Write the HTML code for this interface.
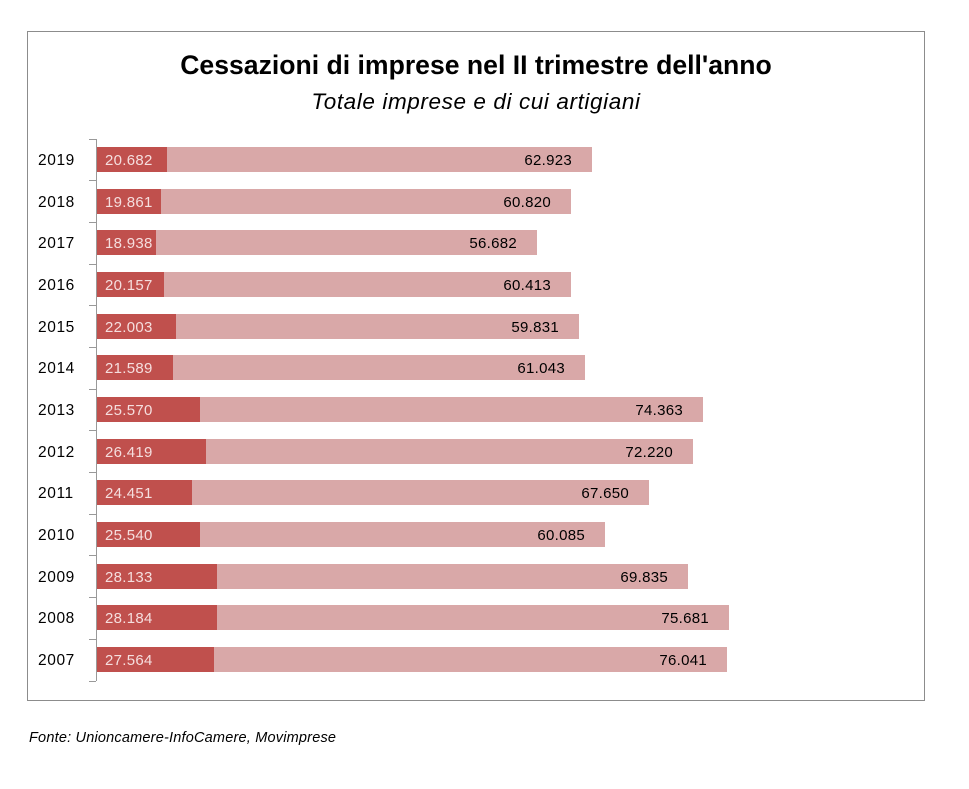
<!DOCTYPE html>
<html><head><meta charset="utf-8"><style>
body{margin:0;background:#fff;width:969px;height:789px;position:relative;font-family:"Liberation Sans",sans-serif;overflow:hidden}
.frame{position:absolute;left:27px;top:31px;width:898px;height:670px;border:1px solid #8c8c8c;box-sizing:border-box}
.t{position:absolute;left:27px;width:898px;text-align:center;color:#000}
.r{position:absolute;height:25px}
.l{background:#d9a8a8;left:97px}
.d{background:#c0504d;left:97px}
.yl{position:absolute;left:38px;width:50px;font-size:15.5px;letter-spacing:0.6px;color:#000;line-height:27px}
.dl{position:absolute;left:105px;font-size:15px;letter-spacing:0.3px;color:#f5dede;line-height:27px}
.ll{position:absolute;font-size:15px;letter-spacing:0.3px;color:#000;line-height:27px;text-align:right;width:90px}
.tick{position:absolute;left:89px;width:7px;height:1px;background:#999}
</style></head><body>
<div class="frame"></div>
<div class="t" style="top:50px;font-size:26.6px;font-weight:bold;">Cessazioni di imprese nel II trimestre dell'anno</div>
<div class="t" style="top:89px;font-size:22.5px;font-style:italic;letter-spacing:0.6px">Totale imprese e di cui artigiani</div>
<div style="position:absolute;left:96px;top:139px;width:1px;height:542px;background:#999"></div>
<div id="c"></div>
<div style="position:absolute;left:29px;top:730px;font-size:14.5px;letter-spacing:0.2px;font-style:italic;color:#000">Fonte: Unioncamere-InfoCamere, Movimprese</div>
<script>
var d=[["2019","20.682",167,"62.923",592],["2018","19.861",161,"60.820",571],["2017","18.938",156,"56.682",537],["2016","20.157",164,"60.413",571],["2015","22.003",176,"59.831",579],["2014","21.589",173,"61.043",585],["2013","25.570",200,"74.363",703],["2012","26.419",206,"72.220",693],["2011","24.451",192,"67.650",649],["2010","25.540",200,"60.085",605],["2009","28.133",217,"69.835",688],["2008","28.184",217,"75.681",729],["2007","27.564",214,"76.041",727]];
var h="";
for(var i=0;i<d.length;i++){var y=147+i*41.67;var r=d[i];
h+='<div class="r l" style="top:'+y+'px;width:'+(r[4]-97)+'px"></div>';
h+='<div class="r d" style="top:'+y+'px;width:'+(r[2]-97)+'px"></div>';
h+='<div class="yl" style="top:'+y+'px">'+r[0]+'</div>';
h+='<div class="dl" style="top:'+y+'px">'+r[1]+'</div>';
h+='<div class="ll" style="top:'+y+'px;left:'+(r[4]-110)+'px">'+r[3]+'</div>';
h+='<div class="tick" style="top:'+(y-8.5)+'px"></div>';}
h+='<div class="tick" style="top:681px"></div>';
document.getElementById("c").innerHTML=h;
</script>
</body></html>
